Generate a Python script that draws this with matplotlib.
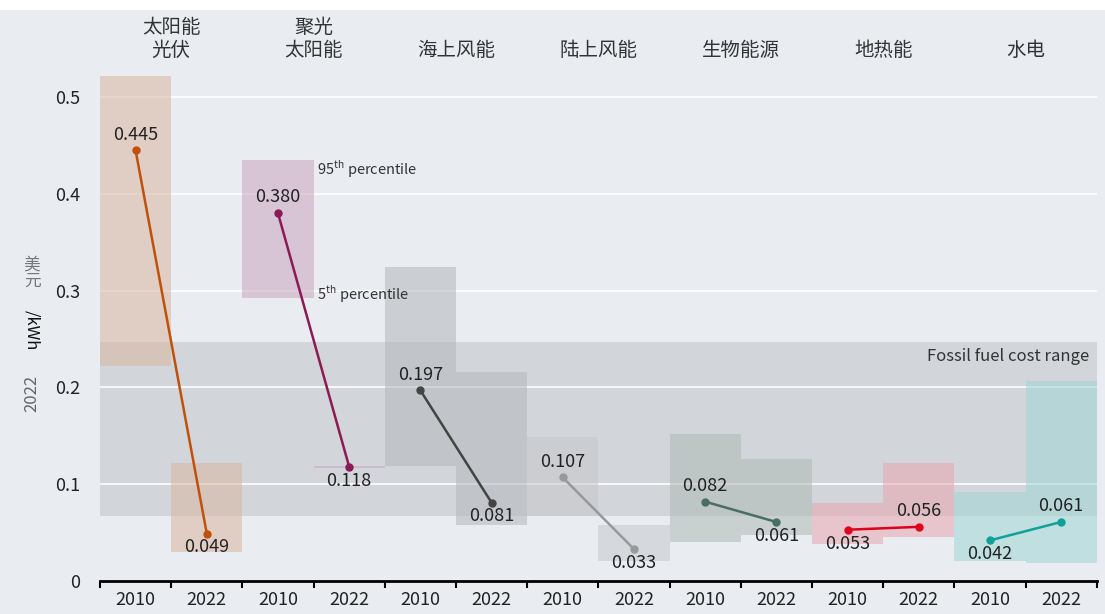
import numpy as np
import matplotlib.pyplot as plt
from matplotlib.patches import Rectangle

plt.rcParams['font.family'] = ['Noto Sans CJK SC', 'DejaVu Sans']

techs = ['太阳能\n光伏', '聚光\n太阳能', '海上风能', '陆上风能', '生物能源', '地热能', '水电']
years = ['2010', '2022']
lcoe_2010 = [0.445, 0.380, 0.197, 0.107, 0.082, 0.053, 0.042]
lcoe_2022 = [0.049, 0.118, 0.081, 0.033, 0.061, 0.056, 0.061]
p5_2010 = [0.222, 0.292, 0.119, 0.067, 0.040, 0.038, 0.021]
p95_2010 = [0.522, 0.435, 0.324, 0.149, 0.152, 0.081, 0.092]
p5_2022 = [0.030, 0.117, 0.058, 0.021, 0.048, 0.045, 0.019]
p95_2022 = [0.122, 0.119, 0.216, 0.058, 0.126, 0.122, 0.207]
fossil_range = (0.067, 0.247)

box_colors = ['#d9b6a0', '#c9a6c0', '#b4b7ba', '#c6c8cb', '#aebab5', '#e8a6b1', '#9fd6d3']
line_colors = ['#c0500a', '#8b1a57', '#444444', '#999999', '#4a6e60', '#e0001b', '#10a09a']
label_pos_2010 = ['above', 'above', 'above', 'above', 'above', 'below', 'below']
label_pos_2022 = ['below', 'below', 'below', 'below', 'below', 'above', 'above']

bg = '#e9ecf1'
fig = plt.figure(figsize=(11.05, 6.14), dpi=100, facecolor=bg)
fig.patches.append(Rectangle((0, 1 - 10 / 614), 1, 10 / 614, transform=fig.transFigure,
                             facecolor='white', edgecolor='none'))
ax = fig.add_axes([0.0905, 0.0537, 0.902, 0.867])
ax.set_facecolor(bg)

n = len(techs)
ax.set_xlim(0, 2 * n)
ax.set_ylim(0, 0.55)

for y in [0.1, 0.2, 0.3, 0.4, 0.5]:
    ax.axhline(y, color='white', lw=1.2, zorder=1.5)

ax.add_patch(Rectangle((0, fossil_range[0]), 2 * n, fossil_range[1] - fossil_range[0],
                       facecolor='#b8bbc0', alpha=0.45, edgecolor='none', zorder=1))
ax.text(2 * n - 0.1, fossil_range[1] - 0.006, 'Fossil fuel cost range', ha='right', va='top',
        fontsize=12, color='#333333', zorder=5)

for i in range(n):
    x0 = 2 * i
    ax.add_patch(Rectangle((x0, p5_2010[i]), 1, p95_2010[i] - p5_2010[i],
                           facecolor=box_colors[i], alpha=0.55, edgecolor='none', zorder=2))
    ax.add_patch(Rectangle((x0 + 1, p5_2022[i]), 1, p95_2022[i] - p5_2022[i],
                           facecolor=box_colors[i], alpha=0.55, edgecolor='none', zorder=2))
    xs = [x0 + 0.5, x0 + 1.5]
    ys = [lcoe_2010[i], lcoe_2022[i]]
    ax.plot(xs, ys, color=line_colors[i], lw=1.8, marker='o', ms=5, zorder=4)
    for xx, yy, pos in [(xs[0], ys[0], label_pos_2010[i]), (xs[1], ys[1], label_pos_2022[i])]:
        if pos == 'above':
            ax.text(xx, yy + 0.007, f'{yy:.3f}', ha='center', va='bottom', fontsize=13, color='#222222', zorder=5)
        else:
            ax.text(xx, yy - 0.005, f'{yy:.3f}', ha='center', va='top', fontsize=13, color='#222222', zorder=5)
    ax.text(x0 + 1, 0.560 if '\n' in techs[i] else 0.548, techs[i], ha='center', va='center',
            fontsize=14, color='#333333', linespacing=1.1, clip_on=False)

ax.text(3.05, 0.425, '95$^{\\mathregular{th}}$ percentile', fontsize=10.5, color='#333333', va='center')
ax.text(3.05, 0.296, '5$^{\\mathregular{th}}$ percentile', fontsize=10.5, color='#333333', va='center')

ax.set_xticks(np.arange(0, 2 * n + 1))
ax.set_xticklabels([])
ax.set_xticks(np.arange(0.5, 2 * n, 1), minor=True)
ax.set_xticklabels(years * n, minor=True, fontsize=13, color='#222222')
ax.tick_params(axis='x', which='major', length=5, width=1.5, color='black')
ax.tick_params(axis='x', which='minor', length=0, pad=7)

ax.set_yticks([0, 0.1, 0.2, 0.3, 0.4, 0.5])
ax.set_yticklabels(['0', '0.1', '0.2', '0.3', '0.4', '0.5'], fontsize=13, color='#222222')
ax.tick_params(axis='y', length=0, pad=14)

for s in ['top', 'right', 'left']:
    ax.spines[s].set_visible(False)
ax.spines['bottom'].set_linewidth(2)

fig.text(0.029, 0.36, '2022', rotation=90, ha='center', va='center', fontsize=12, color='#666666')
fig.text(0.029, 0.555, '美\n元', ha='center', va='center', fontsize=12, color='#777777', linespacing=0.95)
fig.text(0.029, 0.462, '/kWh', rotation=270, ha='center', va='center', fontsize=12, color='#111111')

fig.savefig('out.png', dpi=100, facecolor=bg)
